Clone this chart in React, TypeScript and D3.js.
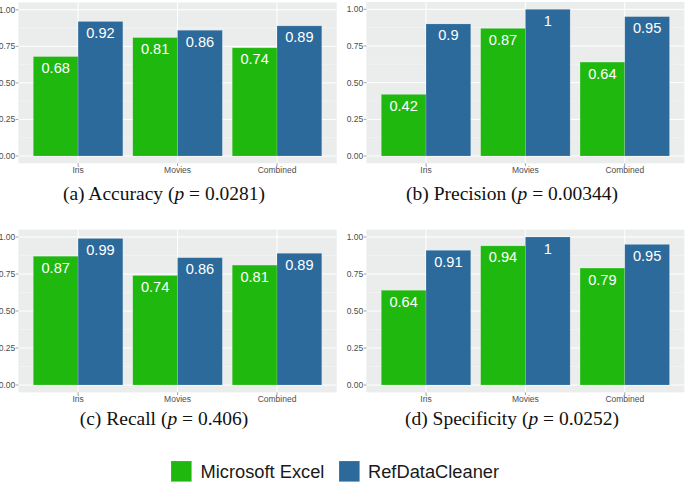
import React from "react";
import * as d3 from "d3";

const categories = ["Iris", "Movies", "Combined"];
const seriesNames = ["Microsoft Excel", "RefDataCleaner"];
const seriesColors = ["#1fb80f", "#2c6a9b"];

const accuracyExcel = [0.68, 0.81, 0.74];
const accuracyRef = [0.92, 0.86, 0.89];
const precisionExcel = [0.42, 0.87, 0.64];
const precisionRef = [0.9, 1, 0.95];
const recallExcel = [0.87, 0.74, 0.81];
const recallRef = [0.99, 0.86, 0.89];
const specificityExcel = [0.64, 0.94, 0.79];
const specificityRef = [0.91, 1, 0.95];

const yTicks = [0, 0.25, 0.5, 0.75, 1];
const yTickLabels = ["0.00", "0.25", "0.50", "0.75", "1.00"];
const yMinor = [0.125, 0.375, 0.625, 0.875];

const panelLetters = ["a", "b", "c", "d"];
const panelTitles = ["Accuracy", "Precision", "Recall", "Specificity"];
const panelPValues = ["0.0281", "0.00344", "0.406", "0.0252"];

const panelData = [
  [accuracyExcel, accuracyRef],
  [precisionExcel, precisionRef],
  [recallExcel, recallRef],
  [specificityExcel, specificityRef],
];

const layouts = [
  { left: 18.4, right: 336.7, y1: 9.8, y0: 156, capX: 164, capY: 200 },
  { left: 366.4, right: 684.4, y1: 9.3, y0: 156, capX: 512, capY: 200 },
  { left: 18.4, right: 336.7, y1: 237, y0: 385, capX: 164, capY: 425 },
  { left: 366.4, right: 684.4, y1: 237, y0: 385, capX: 512, capY: 425 },
];

const sans = "'Liberation Sans', Arial, Helvetica, sans-serif";
const serif = "'Liberation Serif', 'Times New Roman', serif";

function Panel({ idx }: { idx: number }) {
  const L = layouts[idx];
  const data = panelData[idx];
  const unitPerVal = L.y0 - L.y1;
  const y = d3
    .scaleLinear()
    .domain([0, 1])
    .range([L.y0, L.y1]);
  const top = y(1.05);
  const bottom = y(-0.05);
  const x = d3
    .scaleBand<string>()
    .domain(categories)
    .range([L.left, L.right])
    .paddingInner(0.1)
    .paddingOuter(0.15);
  const xs = d3
    .scaleBand<string>()
    .domain(seriesNames)
    .range([0, x.bandwidth()]);
  const fmt = (v: number) => String(v);
  return (
    <g>
      <rect x={L.left} y={top} width={L.right - L.left} height={bottom - top} fill="#eaedec" />
      {yMinor.map((t) => (
        <line key={"mn" + t} x1={L.left} x2={L.right} y1={y(t)} y2={y(t)} stroke="#f7f8f8" strokeWidth={0.5} />
      ))}
      {yTicks.map((t) => (
        <line key={"mj" + t} x1={L.left} x2={L.right} y1={y(t)} y2={y(t)} stroke="#ffffff" strokeWidth={1} />
      ))}
      {categories.map((c) => {
        const cx = (x(c) as number) + x.bandwidth() / 2;
        return <line key={"vg" + c} x1={cx} x2={cx} y1={top} y2={bottom} stroke="#ffffff" strokeWidth={1} />;
      })}
      {categories.map((c, ci) =>
        seriesNames.map((s, si) => {
          const v = data[si][ci];
          const bx = (x(c) as number) + (xs(s) as number);
          const bw = xs.bandwidth();
          return (
            <g key={c + s}>
              <rect x={bx} y={y(v)} width={bw} height={y(0) - y(v)} fill={seriesColors[si]} stroke="rgba(255,255,255,0.25)" strokeWidth={0.6} />
              <text x={bx + bw / 2} y={y(v) + 16.5} textAnchor="middle" fill="#ffffff" fontSize={14.6} fontFamily={sans}>
                {fmt(v)}
              </text>
            </g>
          );
        })
      )}
      {yTicks.map((t, i) => (
        <g key={"yt" + t}>
          <line x1={L.left - 2.7} x2={L.left} y1={y(t)} y2={y(t)} stroke="#444" strokeWidth={0.5} />
          <text x={L.left - 3.2} y={y(t) + 3} textAnchor="end" fill="#4d4d4d" fontSize={8.5} fontFamily={sans}>
            {yTickLabels[i]}
          </text>
        </g>
      ))}
      {categories.map((c) => {
        const cx = (x(c) as number) + x.bandwidth() / 2;
        return (
          <g key={"xt" + c}>
            <line x1={cx} x2={cx} y1={bottom} y2={bottom + 2.7} stroke="#444" strokeWidth={0.5} />
            <text x={cx} y={bottom + 9.3} textAnchor="middle" fill="#4d4d4d" fontSize={8.5} fontFamily={sans}>
              {c}
            </text>
          </g>
        );
      })}
      <text x={L.capX} y={L.capY} textAnchor="middle" fill="#111" fontSize={19.5} fontFamily={serif}>
        {"(" + panelLetters[idx] + ") " + panelTitles[idx] + " ("}
        <tspan fontStyle="italic">p</tspan>
        {" = " + panelPValues[idx] + ")"}
      </text>
    </g>
  );
}

const legendX = [171, 339];
const legendTextX = [200.5, 368];

export default function App() {
  return (
    <svg
      width={685}
      height={483}
      style={{ position: "absolute", left: 0, top: 0, background: "#ffffff" }}
    >
      {[0, 1, 2, 3].map((i) => (
        <Panel key={i} idx={i} />
      ))}
      {seriesNames.map((s, i) => (
        <g key={s}>
          <rect x={legendX[i]} y={461} width={20.7} height={20.7} fill={seriesColors[i]} stroke="rgba(255,255,255,0.3)" strokeWidth={0.6} />
          <text x={legendTextX[i]} y={477.7} fill="#1a1a1a" fontSize={18.3} fontFamily={sans}>
            {s}
          </text>
        </g>
      ))}
    </svg>
  );
}
